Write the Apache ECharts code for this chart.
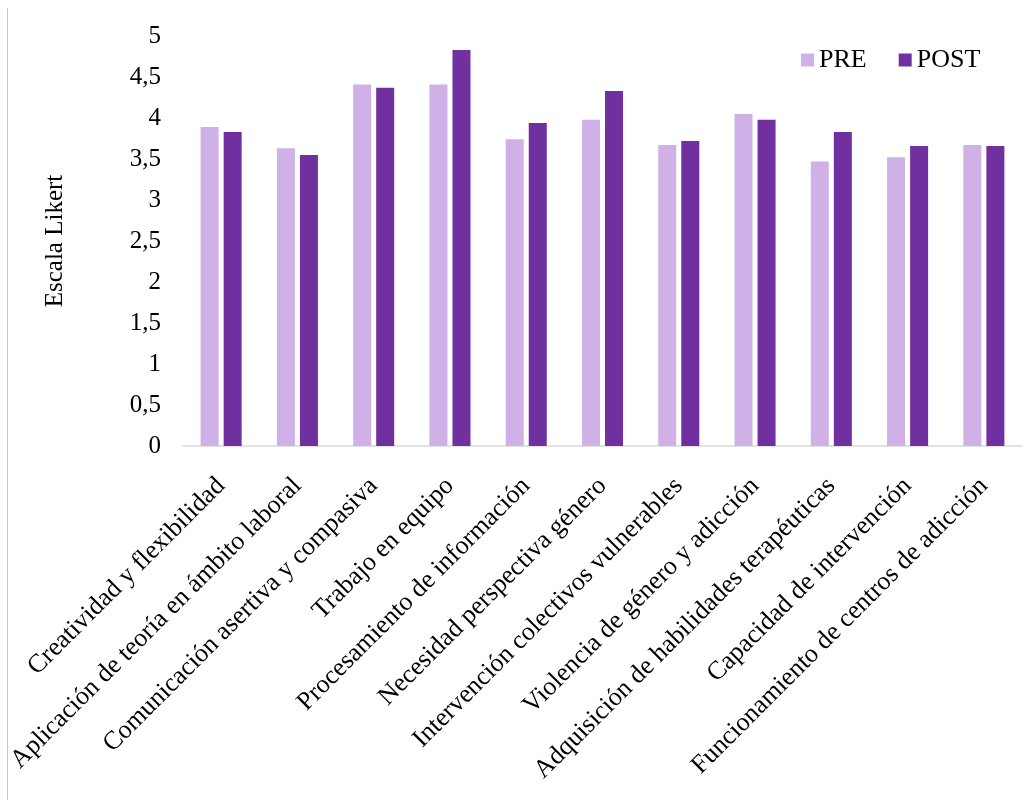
<!DOCTYPE html>
<html>
<head>
<meta charset="utf-8">
<script src="https://cdn.jsdelivr.net/npm/echarts@6/dist/echarts.min.js"></script>
<style>
html,body{margin:0;padding:0;background:#fff;}
#chart{width:1031px;height:800px;}
</style>
</head>
<body>
<div id="chart"></div>
<script>
const categories = [
  "Creatividad y flexibilidad",
  "Aplicación de teoría en ámbito laboral",
  "Comunicación asertiva y compasiva",
  "Trabajo en equipo",
  "Procesamiento de información",
  "Necesidad perspectiva género",
  "Intervención colectivos vulnerables",
  "Violencia de género y adicción",
  "Adquisición de habilidades terapéuticas",
  "Capacidad de intervención",
  "Funcionamiento de centros de adicción"
];
const preValues  = [3.89, 3.63, 4.41, 4.41, 3.74, 3.98, 3.67, 4.05, 3.47, 3.52, 3.67];
const postValues = [3.83, 3.55, 4.37, 4.83, 3.94, 4.33, 3.72, 3.98, 3.83, 3.66, 3.66];
const seriesNames = ["PRE", "POST"];
const yTicks = { min: 0, max: 5, interval: 0.5 };

const FONT = "'Liberation Serif', 'Times New Roman', serif";
const chart = echarts.init(document.getElementById('chart'));
chart.setOption({
  backgroundColor: '#ffffff',
  animation: false,
  graphic: [{
    type: 'line',
    shape: { x1: 7.5, y1: 8, x2: 7.5, y2: 800 },
    style: { stroke: '#c8c8c8', lineWidth: 1 }
  }],
  legend: {
    data: seriesNames,
    left: 796,
    top: 42,
    itemWidth: 13,
    itemHeight: 13,
    itemGap: 32,
    textStyle: { fontFamily: FONT, fontSize: 26, color: '#000' },
    icon: 'rect'
  },
  grid: { left: 183, right: 9, top: 36, bottom: 354, containLabel: false },
  xAxis: {
    type: 'category',
    data: categories,
    axisLine: { show: true, lineStyle: { color: '#d9d9d9', width: 1.5 } },
    axisTick: { show: false },
    axisLabel: {
      interval: 0,
      rotate: 45,
      margin: 36,
      fontFamily: FONT,
      fontSize: 26,
      color: '#000'
    }
  },
  yAxis: {
    type: 'value',
    min: yTicks.min,
    max: yTicks.max,
    interval: yTicks.interval,
    name: 'Escala Likert',
    nameLocation: 'middle',
    nameGap: 115,
    nameTextStyle: { fontFamily: FONT, fontSize: 25, color: '#000' },
    axisLine: { show: false },
    axisTick: { show: false },
    splitLine: { show: false },
    axisLabel: {
      margin: 22,
      fontFamily: FONT,
      fontSize: 25,
      color: '#000',
      formatter: v => String(v).replace('.', ',')
    }
  },
  series: [
    {
      name: seriesNames[0],
      type: 'bar',
      data: preValues,
      barWidth: 18,
      barGap: '28%',
      itemStyle: { color: '#CFB0E7' }
    },
    {
      name: seriesNames[1],
      type: 'bar',
      data: postValues,
      barWidth: 18,
      itemStyle: { color: '#7030A0' }
    }
  ]
});
</script>
</body>
</html>
